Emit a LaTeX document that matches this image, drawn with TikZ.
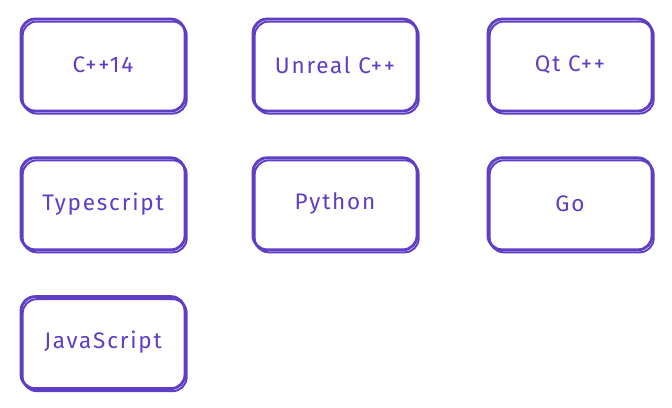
\documentclass[tikz,border=0pt]{standalone}
\usepackage{fontspec}
\setmainfont{Fira Sans}[LetterSpace=8]
\usepackage{tikz}
\usetikzlibrary{positioning}

\definecolor{sketch}{HTML}{5F3DC4}
\tikzset{
    lang/.style={draw=sketch, line width=2pt, rounded corners=10pt,
        minimum width=4.1cm, minimum height=2.3cm, text=sketch,
        font=\fontsize{16}{18}\selectfont,
        postaction={draw=sketch, line width=1.4pt, rounded corners=13pt,
            transform canvas={shift={(1.2pt,-1.8pt)}}}}
}

\begin{document}
\begin{tikzpicture}[node distance=3.47cm and 5.8cm, on grid]
            \useasboundingbox (0,0) rectangle (16.8,-10.175);
            \node[lang] (cpp) at (2.575,-1.625) {C++14};
            \node[lang, right = of cpp] (unreal) {Unreal C++};
            \node[lang, right = 5.875cm of unreal] (qt) {Qt C++};
            \node[lang, below = of cpp] (ts) {Typescript};
            \node[lang, below = of unreal] (py) {Python};
            \node[lang, below = of qt] (go) {Go};
            \node[lang, below = of ts] (js) {JavaScript};
        \end{tikzpicture}
\end{document}
